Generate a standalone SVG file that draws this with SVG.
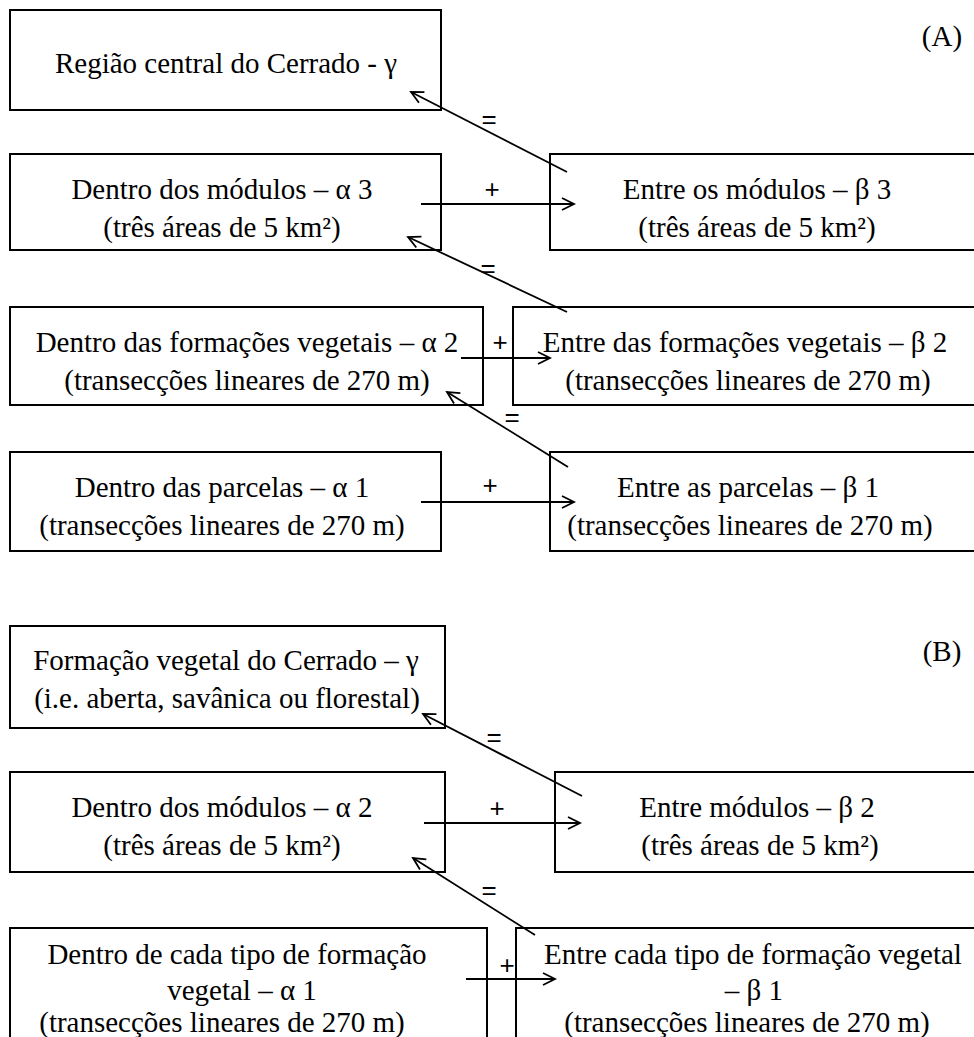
<svg xmlns="http://www.w3.org/2000/svg" width="974" height="1037" viewBox="0 0 974 1037">
<style>
.box{fill:#fff;stroke:#000;stroke-width:2}
.t{font-family:"Liberation Serif","Times New Roman",serif;font-size:29px;fill:#000;text-anchor:middle}
.op{font-family:"Liberation Sans",Arial,sans-serif;font-size:26px;fill:#000;text-anchor:middle}
.c{stroke:#000;stroke-width:1.8;fill:none;marker-end:url(#ah)}
</style>
<defs>
<marker id="ah" markerUnits="userSpaceOnUse" markerWidth="16" markerHeight="16" refX="13" refY="7" orient="auto">
<path d="M1,1 L13,7 L1,13" fill="none" stroke="#000" stroke-width="1.8"/>
</marker>
</defs>
<rect width="974" height="1037" fill="#fff"/>
<text class="t" x="942" y="46">(A)</text>
<text class="t" x="942" y="661">(B)</text>
<g id="a_gamma"><rect class="box" x="10" y="10" width="431" height="100"/><text class="t" x="226" y="73">Região central do Cerrado - γ</text></g>
<g id="a_alpha3"><rect class="box" x="10" y="154" width="431" height="96"/><text class="t" x="222" y="199">Dentro dos módulos – α 3</text><text class="t" x="222" y="237">(três áreas de 5 km²)</text></g>
<g id="a_beta3"><rect class="box" x="550" y="154" width="440" height="96"/><text class="t" x="757" y="199">Entre os módulos – β 3</text><text class="t" x="757" y="237">(três áreas de 5 km²)</text></g>
<g id="a_alpha2"><rect class="box" x="10" y="307" width="473" height="98"/><text class="t" x="247" y="352">Dentro das formações vegetais – α 2</text><text class="t" x="247" y="390">(transecções lineares de 270 m)</text></g>
<g id="a_beta2"><rect class="box" x="513" y="307" width="477" height="98"/><text class="t" x="745" y="352">Entre das formações vegetais – β 2</text><text class="t" x="748" y="390">(transecções lineares de 270 m)</text></g>
<g id="a_alpha1"><rect class="box" x="10" y="452" width="431" height="99"/><text class="t" x="222" y="497">Dentro das parcelas – α 1</text><text class="t" x="222" y="535">(transecções lineares de 270 m)</text></g>
<g id="a_beta1"><rect class="box" x="550" y="452" width="440" height="99"/><text class="t" x="748" y="497">Entre as parcelas – β 1</text><text class="t" x="750" y="535">(transecções lineares de 270 m)</text></g>
<g id="b_gamma"><rect class="box" x="10" y="626" width="435" height="102"/><text class="t" x="226" y="670">Formação vegetal do Cerrado – γ</text><text class="t" x="227" y="708">(i.e. aberta, savânica ou florestal)</text></g>
<g id="b_alpha2"><rect class="box" x="10" y="772" width="435" height="100"/><text class="t" x="222" y="817">Dentro dos módulos – α 2</text><text class="t" x="222" y="855">(três áreas de 5 km²)</text></g>
<g id="b_beta2"><rect class="box" x="555" y="772" width="435" height="100"/><text class="t" x="757" y="817">Entre módulos – β 2</text><text class="t" x="760" y="855">(três áreas de 5 km²)</text></g>
<g id="b_alpha1"><rect class="box" x="10" y="928" width="477" height="130"/><text class="t" x="237" y="964">Dentro de cada tipo de formação</text><text class="t" x="242" y="1000">vegetal – α 1</text><text class="t" x="222" y="1032">(transecções lineares de 270 m)</text></g>
<g id="b_beta1"><rect class="box" x="516" y="928" width="474" height="130"/><text class="t" x="753" y="964">Entre cada tipo de formação vegetal</text><text class="t" x="754" y="1000">– β 1</text><text class="t" x="747" y="1032">(transecções lineares de 270 m)</text></g>
<g id="connectors">
<line class="c" x1="567" y1="172" x2="411" y2="92"/>
<text class="op" x="489" y="128">=</text>
<line class="c" x1="421" y1="204" x2="574" y2="204"/>
<text class="op" x="492" y="198">+</text>
<line class="c" x1="567" y1="312" x2="408" y2="237"/>
<text class="op" x="488" y="277">=</text>
<line class="c" x1="461" y1="358" x2="550" y2="358"/>
<text class="op" x="500" y="351">+</text>
<line class="c" x1="568" y1="467" x2="447" y2="392"/>
<text class="op" x="512" y="426">=</text>
<line class="c" x1="421" y1="502" x2="574" y2="502"/>
<text class="op" x="490" y="494">+</text>
<line class="c" x1="582" y1="796" x2="423" y2="714"/>
<text class="op" x="494" y="746">=</text>
<line class="c" x1="424" y1="823" x2="580" y2="823"/>
<text class="op" x="497" y="817">+</text>
<line class="c" x1="535" y1="935" x2="413" y2="858"/>
<text class="op" x="489" y="899">=</text>
<line class="c" x1="466" y1="979" x2="555" y2="979"/>
<text class="op" x="507" y="974">+</text>
</g>
</svg>
